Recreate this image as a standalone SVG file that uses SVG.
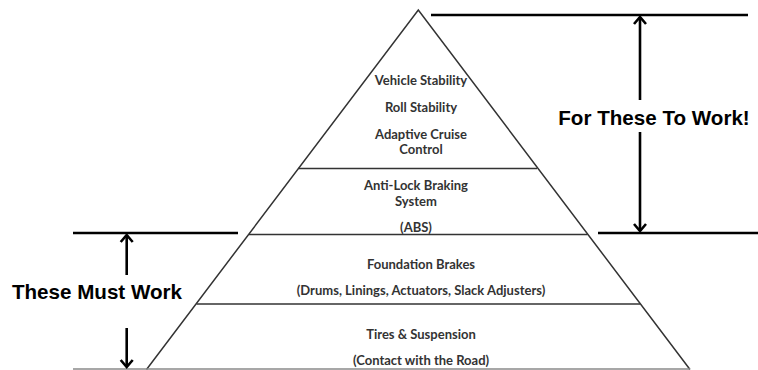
<svg xmlns="http://www.w3.org/2000/svg" width="758" height="370" viewBox="0 0 758 370">
<style>
.pyr{fill:none;stroke:#333;stroke-width:1.5;stroke-linejoin:miter}
.lvl{stroke:#333;stroke-width:1.5}
.lbl{font-family:"Lato","Liberation Sans",sans-serif;font-weight:bold;font-size:13px;fill:#333;text-anchor:middle}
.big{font-family:"Liberation Sans",Arial,sans-serif;font-weight:bold;font-size:20.6px;fill:#000;text-anchor:middle}
.br{stroke:#000;stroke-width:2.6;fill:none}
.ar{stroke:#000;stroke-width:2.6;fill:none;stroke-linejoin:miter}
</style>
<rect width="758" height="370" fill="#fff"/>
<g id="pyramid">
<polyline class="pyr" points="146.5,369.5 418.3,10 690,369.5"/>
<line x1="73" y1="369" x2="690" y2="369" stroke="#8a8a8a" stroke-width="1.5"/>
</g>
<g id="top-level">
<line class="lvl" x1="298.5" y1="168.5" x2="537" y2="168.5"/>
<text class="lbl" x="421" y="85">Vehicle Stability</text>
<text class="lbl" x="421" y="111.5">Roll Stability</text>
<text class="lbl" x="421" y="138.5">Adaptive Cruise</text>
<text class="lbl" x="421" y="153.5">Control</text>
</g>
<g id="abs-level">
<line class="lvl" x1="249" y1="234.5" x2="587.5" y2="234.5"/>
<text class="lbl" x="416" y="189.5">Anti-Lock Braking</text>
<text class="lbl" x="416" y="206">System</text>
<text class="lbl" x="416" y="232">(ABS)</text>
</g>
<g id="foundation-level">
<line class="lvl" x1="196.5" y1="304" x2="640" y2="304"/>
<text class="lbl" x="421" y="268.5">Foundation Brakes</text>
<text class="lbl" x="421" y="294.5">(Drums, Linings, Actuators, Slack Adjusters)</text>
</g>
<g id="tires-level">
<text class="lbl" x="421" y="338.5">Tires &amp; Suspension</text>
<text class="lbl" x="421" y="365">(Contact with the Road)</text>
</g>
<g id="for-these-to-work">
<text class="big" x="654" y="125">For These To Work!</text>
</g>
<g id="these-must-work">
<text class="big" x="97" y="299">These Must Work</text>
</g>
<g id="connectors">
<line class="br" x1="431" y1="15" x2="748" y2="15"/>
<line class="br" x1="598" y1="233" x2="758" y2="233"/>
<line class="br" x1="640" y1="17" x2="640" y2="100"/>
<polyline class="ar" points="634,24 640,17 646,24"/>
<line class="br" x1="640" y1="132" x2="640" y2="231"/>
<polyline class="ar" points="634,224 640,231 646,224"/>
<line class="br" x1="73" y1="233" x2="238" y2="233"/>
<line class="br" x1="126.7" y1="235" x2="126.7" y2="275"/>
<polyline class="ar" points="120.7,242 126.7,235 132.7,242"/>
<line class="br" x1="126.7" y1="328" x2="126.7" y2="367"/>
<polyline class="ar" points="120.7,360 126.7,367 132.7,360"/>
</g>
</svg>
